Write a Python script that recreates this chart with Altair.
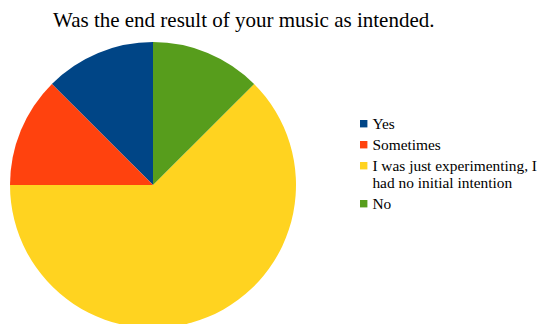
import altair as alt
import pandas as pd

categories = ["Yes", "Sometimes", "I was just experimenting, I|had no initial intention", "No"]
values = [1, 1, 5, 1]
colors = ["#004586", "#ff420e", "#ffd320", "#579d1c"]
# counter-clockwise drawing order from top (Vega draws clockwise)
draw_order = [4, 3, 2, 1]

df = pd.DataFrame({"answer": categories, "count": values, "ord": draw_order})

pie = alt.Chart(df).mark_arc(outerRadius=143, stroke=None).encode(
    theta=alt.Theta("count:Q", stack=True),
    order=alt.Order("ord:Q"),
    color=alt.Color(
        "answer:N",
        sort=categories,
        scale=alt.Scale(domain=categories, range=colors),
        legend=alt.Legend(
            title=None,
            orient="none",
            legendX=348,
            legendY=108,
            symbolType="square",
            symbolSize=55,
            symbolStrokeWidth=0,
            labelFont="Liberation Serif",
            labelFontSize=15.4,
            labelColor="#000000",
            labelExpr="split(datum.label, '|')",
            labelLimit=300,
            rowPadding=4,
            labelOffset=1,
        ),
    ),
    x=alt.value(145),
    y=alt.value(177),
)

chart = pie.properties(
    width=533,
    height=316,
    padding=0,
    autosize=alt.AutoSizeParams(type="none"),
    title=alt.Title(
        "Was the end result of your music as intended.",
        font="Liberation Serif",
        fontSize=21,
        fontWeight="normal",
        color="#000000",
        anchor="start",
        dx=45,
        offset=-23,
        dy=0,
    ),
).configure_view(stroke=None)

chart.save("out.html", embed_options={"renderer": "svg", "actions": False})
